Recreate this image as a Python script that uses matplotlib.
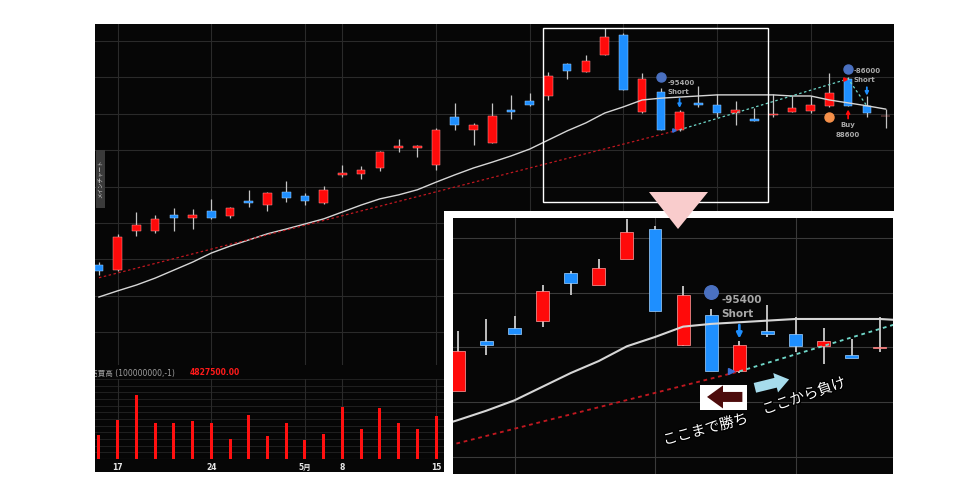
import matplotlib
matplotlib.use("Agg")
import matplotlib.pyplot as plt
import matplotlib.patheffects as pe
from matplotlib.patches import Rectangle, Polygon, FancyArrowPatch

plt.rcParams['font.family'] = ['DejaVu Sans', 'Noto Sans CJK JP']

# daily candles, index 0 = 4/16
opens = [1184, 1170, 1278, 1278, 1322, 1314, 1333, 1319, 1360, 1349,
         1385, 1374, 1355, 1432, 1435, 1451, 1506, 1506, 1459, 1591,
         1556, 1520, 1611, 1635, 1649, 1737, 1715, 1762, 1817, 1605,
         1660, 1556, 1630, 1624, 1602, 1586, 1598, 1605, 1608, 1622,
         1696, 1622, 1593]
highs = [1192, 1270, 1330, 1322, 1341, 1338, 1366, 1344, 1391, 1385,
         1415, 1382, 1402, 1459, 1457, 1498, 1531, 1514, 1561, 1630,
         1575, 1630, 1652, 1657, 1715, 1740, 1762, 1836, 1822, 1712,
         1671, 1611, 1677, 1655, 1635, 1616, 1655, 1649, 1649, 1712,
         1701, 1649, 1613]
lows = [1157, 1168, 1264, 1272, 1278, 1283, 1311, 1314, 1344, 1333,
        1358, 1349, 1352, 1426, 1421, 1443, 1495, 1481, 1446, 1556,
        1514, 1520, 1586, 1622, 1638, 1696, 1715, 1762, 1666, 1602,
        1556, 1553, 1619, 1591, 1569, 1580, 1591, 1605, 1602, 1619,
        1622, 1591, 1561]
closes = [1168, 1261, 1294, 1311, 1314, 1322, 1314, 1341, 1355, 1382,
          1369, 1360, 1391, 1437, 1446, 1495, 1512, 1512, 1556, 1569,
          1569, 1594, 1605, 1624, 1704, 1718, 1745, 1811, 1666, 1696,
          1556, 1605, 1624, 1602, 1611, 1580, 1600, 1616, 1624, 1657,
          1622, 1602, 1594]
ma_line = [1096, 1113, 1129, 1148, 1170, 1192, 1217, 1236, 1253, 1270,
           1283, 1297, 1311, 1330, 1349, 1366, 1377, 1391, 1412, 1432,
           1451, 1467, 1484, 1503, 1528, 1553, 1575, 1602, 1619, 1638,
           1643, 1646, 1649, 1652, 1652, 1652, 1652, 1649, 1649, 1638,
           1630, 1622, 1613]
# volume (millions), visible part only
volumes = [1.80, 2.93, 4.80, 2.70, 2.70, 2.85, 2.70, 1.50, 3.30, 1.73,
           2.70, 1.43, 1.88, 3.90, 2.25, 3.83, 2.70, 2.25, 3.23]

trend_red_x = [0, 31]
trend_red_y = [1149, 1556]
trend_cyan_x = [31, 40, 41]
trend_cyan_y = [1556, 1696, 1622]

# trade labels: (x, y, text, ha)
trade_texts = [(30.35, 1686, '-95400', 'left'), (30.35, 1661, 'Short', 'left'),
               (40.3, 1719, '-86000', 'left'), (40.3, 1694, 'Short', 'left'),
               (40, 1569, 'Buy', 'center'), (40, 1542, '88600', 'center')]

tick_pos = [1, 6, 11, 13, 18]
tick_labels = ['17', '24', '5月', '8', '15']
grid_days = [1, 6, 11, 13, 18, 23, 28, 33, 38]
price_grid = [1000, 1100, 1200, 1300, 1400, 1500, 1600, 1700, 1800]

RED = '#ff0a0a'
BLUE = '#1e8fff'
WICK = '#c4c4c4'
W, H = 980, 500


def rect(x0, y0, x1, y1):
    # pixel box (origin top-left) -> figure fraction
    return [x0 / W, 1 - y1 / H, (x1 - x0) / W, (y1 - y0) / H]


def blank(ax, fc='none'):
    ax.set_facecolor(fc)
    ax.set_xticks([])
    ax.set_yticks([])
    for s in ax.spines.values():
        s.set_visible(False)


def draw_chart(ax, k, gcol):
    for d in grid_days:
        ax.axvline(d, color=gcol, lw=0.8, zorder=0)
    for p in price_grid:
        ax.axhline(p, color=gcol, lw=0.8, zorder=0)
    n = len(opens)
    for i in range(n):
        o, h, l, c = opens[i], highs[i], lows[i], closes[i]
        up = c >= o
        col = RED if up else BLUE
        ec = '#ff9a9a' if up else '#9ccfff'
        ax.vlines(i, l, h, color=WICK, lw=0.9 * k, zorder=2)
        lo, hi = min(o, c), max(o, c)
        ax.add_patch(Rectangle((i - 0.23, lo), 0.46, max(hi - lo, 2),
                               fc=col, ec=ec, lw=0.35 * k, zorder=3))
    ax.plot(range(n), ma_line, color='#d6d6d6', lw=1.0 * k, zorder=4)
    ax.plot(trend_red_x, trend_red_y, color='#c01820', lw=0.9 * k,
            ls=(0, (2, 2)), zorder=4)
    ax.plot(trend_cyan_x, trend_cyan_y, color='#6fd6c8', lw=0.9 * k,
            ls=(0, (2, 2)), zorder=4)
    ax.plot(30.7, 1556, '>', ms=2.5 * k, color='#3a6fd8', zorder=5)
    ax.plot(39.85, 1696, '>', ms=2.5 * k, color=RED, zorder=5)

    # trade markers
    ax.plot(30, 1701, 'o', ms=6.5 * k, color='#4a70c0', zorder=6)
    ax.plot(40, 1723, 'o', ms=6.5 * k, color='#4a70c0', zorder=6)
    ax.plot(39, 1591, 'o', ms=6.5 * k, color='#f5904a', zorder=6)
    xmax = ax.get_xlim()[1]
    for x, y, s, ha in trade_texts:
        if x > xmax - 1:
            continue
        ax.text(x, y, s, ha=ha, va='center', color='#a8a8a8', fontsize=5 * k,
                fontweight='bold', clip_on=True, zorder=7)
    for x, y0, y1, col in [(31, 1641, 1616, BLUE), (41, 1673, 1650, BLUE),
                           (40, 1587, 1612, RED)]:
        ax.annotate('', xy=(x, y1), xytext=(x, y0), annotation_clip=True,
                    arrowprops=dict(arrowstyle='-|>', color=col, lw=1.3 * k,
                                    mutation_scale=5 * k, shrinkA=0, shrinkB=0),
                    zorder=7)


fig = plt.figure(figsize=(9.8, 5.0), dpi=100, facecolor='white')

# black chart panel
ax_bg = fig.add_axes(rect(95, 24, 894, 472))
blank(ax_bg, '#060606')
ax_bg.text(-0.006, 0.221, '売買高 (100000000,-1)', transform=ax_bg.transAxes,
           color='#a0a0a0', fontsize=5.5, va='center', clip_on=True)
ax_bg.text(0.118, 0.221, '4827500.00', transform=ax_bg.transAxes,
           color='#ff1a1a', fontsize=5.5, fontweight='bold', va='center')

# price panel
ax = fig.add_axes(rect(95, 24, 894, 365))
blank(ax)
ax.set_xlim(-0.21, 42.45)
ax.set_ylim(909, 1847)
draw_chart(ax, 1.0, '#2a2a2a')
ax.add_patch(Rectangle((23.7, 1357), 12.0, 479, fill=False, ec='white',
                       lw=1.0, zorder=8))

# volume panel
ax_v = fig.add_axes(rect(95, 379, 894, 459))
blank(ax_v)
ax_v.set_xlim(-0.21, 42.45)
ax_v.set_ylim(0, 6.0)
for i in range(1, 13):
    ax_v.axhline(i * 0.5, color='#252525', lw=0.6, zorder=0)
ax_v.axhline(0, color='#4a4a4a', lw=0.8, zorder=0)
for d in grid_days:
    ax_v.axvline(d, color='#2a2a2a', lw=0.8, zorder=0)
ax_v.bar(range(len(volumes)), volumes, width=0.16, color='#ff1010', zorder=2)
ax_v.set_xticks(tick_pos)
ax_v.set_xticklabels(tick_labels)
ax_v.tick_params(axis='x', length=0, pad=3, labelsize=5.5, labelcolor='#e6e6e6')
for lbl in ax_v.get_xticklabels():
    lbl.set_fontweight('bold')

# left tab
fig.add_artist(Rectangle((96 / W, 1 - 208 / H), 9 / W, 58 / H,
                         transform=fig.transFigure, fc='#3a3a3a', ec='none'))
fig.text(100.5 / W, 1 - 179 / H, 'メインチャート', rotation=90, fontsize=4,
         color='#d0d0d0', ha='center', va='center')

# zoomed inset
ax_fr = fig.add_axes(rect(444, 211, 902, 482))
blank(ax_fr, 'white')
ax_in = fig.add_axes(rect(453, 218, 893, 474))
blank(ax_in, '#060606')
ax_in.set_xlim(20.81, 36.47)
ax_in.set_ylim(1368, 1837)
draw_chart(ax_in, 1.5, '#3a3a3a')

ax_in.add_patch(Rectangle((0.561, 0.25), 0.107, 0.098, transform=ax_in.transAxes,
                          fc='white', ec='none', zorder=8))
ax_in.add_patch(FancyArrowPatch((0.664, 0.301), (0.571, 0.301),
                                transform=ax_in.transAxes,
                                arrowstyle='simple,head_width=1.66,head_length=1.15,tail_width=0.72',
                                mutation_scale=10, fc='#4d0c0c', ec='none', zorder=9))
ax_in.add_patch(FancyArrowPatch((0.680, 0.334), (0.770, 0.372),
                                transform=ax_in.transAxes,
                                arrowstyle='simple,head_width=1.44,head_length=1.0,tail_width=0.72',
                                mutation_scale=10, fc='#a6dcec', ec='none', zorder=9))
stroke = [pe.withStroke(linewidth=2, foreground='black')]
ax_in.text(0.574, 0.175, 'ここまで勝ち', transform=ax_in.transAxes, rotation=15,
           color='white', fontsize=10.5, ha='center', va='center',
           path_effects=stroke, zorder=9)
ax_in.text(0.798, 0.305, 'ここから負け', transform=ax_in.transAxes, rotation=19,
           color='white', fontsize=10.5, ha='center', va='center',
           path_effects=stroke, zorder=9)

# pink pointer between the two views
fig.add_artist(Polygon([(649 / W, 1 - 192 / H), (708 / W, 1 - 192 / H),
                        (678 / W, 1 - 229 / H)], closed=True,
                       transform=fig.transFigure, fc='#f9cccc', ec='none', zorder=10))

fig.savefig('out.png', dpi=100, facecolor='white')
